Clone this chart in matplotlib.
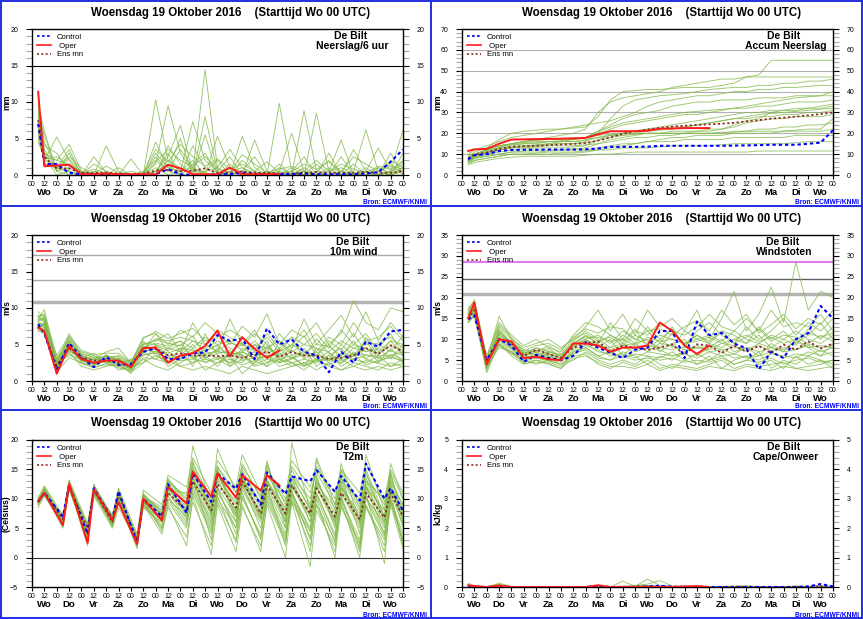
import matplotlib
matplotlib.use('Agg')
import matplotlib.pyplot as plt
from matplotlib.lines import Line2D
from matplotlib.ticker import MultipleLocator, FixedLocator
import matplotlib.transforms as mtrans

plt.rcParams['font.family'] = ['Liberation Sans', 'DejaVu Sans']

TITLE = 'Woensdag 19 Oktober 2016    (Starttijd Wo 00 UTC)'
DAYS = ['Wo', 'Do', 'Vr', 'Za', 'Zo', 'Ma', 'Di', 'Wo', 'Do', 'Vr', 'Za', 'Zo', 'Ma', 'Di', 'Wo']
HOUR_LABELS = ['00', '12'] * 15 + ['00']
HOURS12 = [6] + list(range(12, 361, 12))                      # 31 steps
HOURS_T2M = [h for d in range(15) for h in (24 * d + 6, 24 * d + 12)] + [360]
T2M_OPER_HOURS = HOURS_T2M[:20] + [240]

# ---------------- Neerslag / 6 uur ----------------
PREC_OPER = [11.4, 1.2, 1.3, 1.4, 0.1, 0.1, 0.2, 0.1, 0.1, 0.1, 0.1, 1.4, 0.9, 0.1, 0.1, 0.1, 1.0, 0.1, 0.1, 0.1, 0.1]
PREC_CONTROL = [7.0, 1.5, 1.5, 0.3, 0.1, 0.1, 0.1, 0.1, 0.0, 0.0, 0.1, 0.8, 0.1, 0.0, 0.0, 0.1, 0.1, 0.3, 0.1, 0.1,
                0.1, 0.1, 0.2, 0.1, 0.1, 0.1, 0.1, 0.2, 0.4, 1.8, 3.5]
PREC_MEAN = [7.5, 2.5, 0.9, 0.9, 0.3, 0.3, 0.3, 0.2, 0.1, 0.2, 0.6, 0.7, 0.5, 0.6, 0.9, 0.3, 0.3, 0.5, 0.3, 0.3,
             0.2, 0.2, 0.3, 0.4, 0.3, 0.3, 0.3, 0.4, 0.3, 0.3, 0.6]
PREC_MEMBERS = [
    [9.0, 3.0, 0.5, 3.0, 0.2, 0.5, 0.0, 0.2, 0.0, 0.0, 10.3, 2.0, 0.5, 1.0, 0.3, 0.0, 0.5, 1.0, 0.2, 0.0, 0.0, 0.3, 0.5, 0.0, 0.5, 1.0, 0.2, 0.5, 0.0, 0.5, 1.0],
    [6.0, 2.5, 2.0, 4.2, 0.5, 0.0, 4.0, 0.5, 0.0, 0.0, 1.5, 9.5, 3.0, 0.5, 14.4, 1.0, 0.0, 0.5, 0.0, 0.2, 0.0, 0.0, 0.0, 0.5, 0.0, 0.0, 0.0, 0.0, 1.0, 0.3, 0.5],
    [10.0, 4.5, 1.0, 0.5, 0.0, 1.5, 0.5, 0.0, 2.2, 0.0, 0.5, 2.5, 6.8, 0.5, 0.0, 5.3, 1.0, 0.0, 0.5, 0.0, 9.8, 0.5, 0.0, 1.5, 0.0, 0.5, 0.0, 1.0, 0.0, 0.5, 6.2],
    [5.0, 2.0, 5.2, 2.0, 0.0, 0.0, 0.0, 1.0, 0.0, 0.0, 4.5, 1.0, 0.5, 7.3, 2.0, 0.5, 0.0, 5.3, 1.0, 0.0, 0.5, 5.7, 0.5, 0.0, 0.5, 4.8, 0.0, 0.5, 0.0, 0.0, 0.5],
    [8.0, 5.5, 0.5, 1.0, 0.0, 2.5, 0.3, 0.0, 0.0, 0.0, 0.0, 4.0, 1.5, 0.0, 8.0, 0.5, 2.5, 0.0, 4.8, 0.5, 0.0, 0.0, 8.8, 0.5, 2.0, 0.0, 0.5, 6.2, 0.5, 1.5, 0.0],
    [7.0, 3.0, 2.0, 1.5, 0.5, 0.0, 0.0, 0.0, 0.0, 0.5, 2.0, 0.5, 3.5, 1.0, 0.0, 0.0, 1.5, 0.0, 0.0, 0.0, 0.5, 0.0, 0.0, 8.5, 0.5, 0.0, 3.5, 0.5, 3.7, 0.5, 2.0],
    [9.5, 6.0, 0.5, 0.0, 0.0, 0.0, 0.5, 0.0, 0.0, 0.0, 0.5, 3.0, 0.0, 1.5, 3.0, 0.0, 0.0, 2.0, 0.5, 0.0, 0.0, 0.5, 2.5, 0.0, 0.0, 0.5, 0.0, 0.0, 0.5, 0.0, 1.0],
    [6.5, 1.5, 1.0, 2.5, 1.0, 0.0, 0.0, 0.0, 0.0, 0.0, 3.0, 1.0, 5.0, 0.0, 0.5, 2.0, 0.0, 0.5, 2.5, 0.0, 1.0, 0.0, 0.0, 0.0, 3.0, 0.0, 0.0, 0.5, 0.0, 3.0, 0.0],
    [4.5, 2.5, 0.0, 0.5, 0.0, 0.0, 0.0, 0.0, 0.0, 0.0, 1.0, 0.0, 0.5, 2.0, 0.0, 0.0, 0.5, 0.0, 0.0, 0.5, 0.0, 0.0, 0.5, 0.0, 0.0, 2.5, 0.0, 0.0, 1.0, 0.0, 0.5],
    [8.5, 4.0, 3.0, 0.5, 0.0, 0.0, 0.0, 0.0, 0.0, 0.0, 0.0, 2.0, 1.0, 0.5, 0.5, 1.0, 3.5, 1.0, 0.0, 0.0, 0.0, 0.0, 1.0, 0.0, 0.0, 0.0, 1.5, 0.0, 0.0, 0.5, 1.5],
    [7.5, 1.5, 1.0, 3.5, 0.0, 0.0, 0.0, 0.0, 0.0, 0.0, 2.5, 0.5, 0.0, 4.0, 1.0, 0.0, 0.0, 0.5, 0.0, 0.0, 1.5, 0.0, 0.0, 0.0, 1.0, 0.0, 0.0, 0.0, 0.0, 2.0, 1.0],
    [5.5, 2.0, 1.5, 0.0, 0.0, 0.0, 0.0, 0.0, 0.0, 0.0, 0.5, 1.5, 0.0, 0.0, 5.5, 0.0, 1.0, 0.0, 0.0, 0.0, 0.0, 1.0, 0.0, 0.0, 0.0, 0.0, 0.0, 0.0, 0.0, 0.0, 3.0],
    [6.8, 2.2, 2.5, 1.2, 0.3, 0.8, 0.2, 0.0, 0.5, 0.0, 1.8, 3.5, 2.0, 1.2, 2.5, 0.8, 0.3, 2.8, 1.5, 0.3, 0.8, 1.2, 0.5, 2.0, 0.5, 1.5, 0.8, 0.3, 1.2, 0.8, 1.8],
    [7.8, 3.5, 0.8, 2.2, 0.4, 0.2, 1.2, 0.3, 0.0, 0.3, 3.5, 1.8, 4.2, 2.5, 1.2, 2.2, 0.8, 1.5, 0.5, 1.8, 0.3, 0.5, 1.5, 0.8, 1.8, 0.5, 2.5, 1.5, 0.5, 1.2, 0.8],
]

# ---------------- Accum Neerslag ----------------
ACC_OPER = [11.5, 12.3, 12.5, 15.0, 17.0, 17.1, 17.2, 17.3, 17.4, 17.5, 17.8, 19.5, 21.0, 21.0, 21.0, 21.2, 22.2, 22.3, 22.5, 22.5, 22.5]
ACC_CONTROL = [7.5, 9.5, 10.0, 11.5, 12.0, 12.1, 12.1, 12.2, 12.2, 12.2, 12.3, 12.7, 13.5, 13.5, 13.5, 13.6, 14.0, 14.0, 14.0, 14.0,
               14.0, 14.0, 14.1, 14.2, 14.3, 14.5, 14.5, 14.5, 15.0, 15.5, 21.5]
ACC_MEAN = [8.0, 9.8, 10.8, 12.5, 13.5, 13.8, 14.0, 14.3, 14.6, 14.9, 15.3, 16.5, 18.0, 19.8, 21.0, 21.8, 22.6, 23.2, 23.6, 24.0,
            24.3, 24.6, 25.0, 25.7, 26.3, 27.0, 27.5, 28.0, 28.6, 29.2, 30.0]
ACC_MEMBERS = [
    [9, 11, 13, 17, 20, 21, 21.5, 22, 22, 22.5, 23, 28, 36, 40, 40.5, 41, 41, 41.5, 42, 42, 42, 43, 44, 47, 48, 55, 55, 55, 55, 55, 55],
    [8, 10, 12, 14, 15, 16, 17, 18, 19, 20, 22, 30, 35, 37, 38, 39, 40, 42, 43, 44, 45, 46, 46, 47, 47, 47, 47, 47, 47, 47, 47],
    [7, 9, 11, 12, 13, 14, 14.5, 15, 15, 15, 16, 20, 27, 33, 36, 37, 38, 38.5, 39, 40, 41, 41.5, 42, 42, 43, 43, 44, 44, 45, 45, 46],
    [10, 12, 14, 16, 18, 19, 20, 21, 22, 23, 24, 25, 26, 28, 30, 33, 35, 36, 37, 38, 38, 39, 40, 40, 41, 41, 42, 42, 42.5, 43, 43],
    [6, 8, 10, 12, 13, 13.5, 14, 15, 16, 17, 18, 21, 24, 27, 29, 30, 31, 33, 34, 35, 35, 36, 36, 36, 37, 37, 37, 38, 38, 38, 38],
    [8, 9, 11, 13, 15, 16, 16.5, 17, 17, 17.5, 18, 20, 22, 24, 25, 26, 27, 28, 29, 29, 30, 31, 32, 32, 33, 33, 34, 35, 35, 35, 36],
    [7, 9, 10, 11, 12, 12.5, 13, 13, 13, 13.5, 14, 17, 19, 20, 21, 22, 23, 24, 25, 26, 27, 28, 29, 30, 30, 31, 31, 32, 32, 33, 34],
    [9, 10, 12, 14, 15, 15.5, 16, 16, 16, 16, 16.5, 18, 19, 20, 21, 22, 22, 23, 23, 24, 25, 26, 27, 27, 28, 28, 29, 29, 30, 30, 31],
    [6, 8, 9, 10, 11, 11.5, 12, 12, 12, 12.5, 13, 15, 17, 18, 19, 20, 20, 21, 21, 21, 22, 22, 23, 25, 26, 27, 27, 28, 28, 28, 29],
    [8, 9, 10, 12, 13, 13, 13.5, 14, 14, 14, 14.5, 15, 16, 17, 18, 18, 19, 19, 20, 20, 20, 20, 21, 21, 22, 22, 23, 23, 24, 24, 25],
    [5, 7, 8, 9, 10, 10, 10.5, 11, 11, 11, 11.5, 12, 13, 14, 15, 16, 17, 18, 18, 19, 19, 19, 20, 20, 20, 20, 21, 21, 21, 21, 22],
    [7, 8, 9, 10, 11, 11, 11, 11.5, 12, 12, 12, 13, 14, 15, 15, 16, 16, 16, 17, 17, 17, 17, 18, 18, 18, 18, 18, 19, 19, 19, 19],
    [6, 7, 8, 9, 10, 10, 10, 10, 10.5, 10.5, 11, 12, 12, 13, 13, 13, 13.5, 14, 14, 14, 14, 14.5, 15, 15, 15, 15, 15, 15.5, 16, 16, 16],
    [5, 6, 7, 8, 8.5, 9, 9, 9, 9, 9, 9.5, 10, 10, 10.5, 11, 11, 11, 11, 11, 11, 11, 11, 11, 11, 11.5, 11.5, 11.5, 11.5, 11.5, 11.5, 11.5],
    [8, 10, 12, 14, 15, 16, 17, 17, 17.5, 18, 18, 19, 19.5, 20, 20, 20, 20, 20, 20, 20, 20, 20.5, 20.5, 21, 21, 21, 21, 21.5, 22, 22, 27],
    [7, 9, 11, 13, 14, 15, 15, 16, 16, 16, 17, 18, 19, 19, 19.5, 20, 20, 20, 20, 21, 21, 22, 24, 26, 27, 30, 31, 31, 32, 32, 33],
    [7.5, 9.5, 11.5, 13.5, 14.5, 15, 15.5, 16, 16.5, 17, 18, 21, 23, 25, 26, 27, 28, 29, 30, 30.5, 31, 31.5, 32, 33, 34, 35, 36, 37, 37.5, 38, 40],
    [6.5, 8.5, 10.5, 12.5, 13.5, 14, 14, 14.5, 15, 15, 15.5, 16.5, 18, 19, 20, 21, 21.5, 22, 23, 24, 25, 26, 27, 28, 29, 29.5, 30, 30.5, 31, 31.5, 32],
]

# ---------------- 10m wind ----------------
WIND_OPER = [7.3, 6.8, 1.0, 4.8, 3.0, 2.5, 2.8, 2.8, 1.9, 4.5, 4.6, 2.5, 3.5, 3.8, 4.8, 6.9, 3.4, 6.0, 4.4, 3.2, 4.2]
WIND_CONTROL = [7.8, 6.5, 1.5, 5.2, 3.2, 1.9, 3.3, 2.2, 2.3, 4.0, 4.5, 3.0, 3.0, 3.8, 3.9, 6.3, 5.5, 5.8, 3.0, 7.2,
                5.0, 5.7, 4.0, 3.5, 1.2, 4.0, 2.5, 5.4, 4.7, 6.8, 7.0]
WIND_MEAN = [7.5, 6.5, 2.1, 4.5, 3.2, 2.8, 2.8, 2.5, 2.0, 4.5, 4.5, 3.5, 3.8, 3.5, 3.5, 3.4, 3.5, 3.2, 3.5, 4.0,
             3.3, 4.0, 3.5, 3.5, 3.0, 3.2, 3.5, 4.5, 3.7, 4.9, 4.0]
WIND_MEMBERS = [
    [8.5, 9.8, 2.5, 6.5, 3.5, 3.0, 4.0, 4.5, 2.5, 6.0, 6.5, 5.0, 7.0, 6.0, 8.0, 6.5, 5.0, 7.5, 6.0, 9.2, 5.0, 7.0, 6.0, 8.0, 5.0, 6.5, 11.0, 8.0, 7.0, 10.0, 9.5],
    [7.0, 8.0, 1.5, 5.5, 2.5, 2.0, 3.5, 3.0, 1.5, 5.0, 5.5, 6.5, 4.0, 8.0, 5.0, 4.0, 8.5, 5.0, 7.0, 4.0, 6.5, 4.5, 8.5, 5.0, 7.0, 9.0, 6.0, 9.5, 5.5, 8.0, 6.0],
    [9.5, 8.5, 3.0, 5.0, 4.0, 3.5, 2.5, 2.0, 3.0, 3.5, 4.0, 2.0, 3.0, 4.5, 2.5, 3.0, 2.0, 4.0, 3.0, 5.5, 2.5, 3.0, 4.5, 2.0, 3.5, 2.5, 4.0, 3.0, 2.5, 4.5, 2.5],
    [8.0, 7.5, 2.0, 4.0, 2.0, 1.5, 2.0, 2.5, 1.0, 4.0, 3.0, 4.5, 5.5, 3.0, 4.0, 5.0, 3.0, 2.5, 5.0, 3.0, 4.0, 6.0, 3.0, 4.0, 2.5, 3.5, 5.5, 3.0, 4.5, 3.0, 5.0],
    [7.5, 7.0, 2.5, 3.5, 3.0, 2.5, 3.0, 1.5, 2.0, 2.5, 5.0, 3.5, 2.0, 2.5, 3.5, 2.0, 4.0, 3.5, 2.0, 2.5, 3.0, 2.0, 2.5, 3.0, 4.0, 2.0, 3.0, 2.5, 3.5, 2.0, 3.0],
    [9.0, 8.0, 2.2, 6.0, 3.8, 3.2, 2.8, 3.5, 2.5, 5.5, 3.5, 2.5, 4.5, 2.0, 6.5, 3.5, 2.5, 4.5, 3.5, 2.0, 5.5, 3.5, 2.0, 4.5, 3.0, 5.0, 3.5, 5.5, 3.0, 3.5, 4.0],
    [7.8, 7.2, 1.8, 4.2, 2.8, 2.2, 3.0, 2.0, 1.5, 3.0, 2.0, 1.5, 2.5, 3.5, 1.5, 2.5, 3.5, 1.0, 2.5, 3.5, 2.0, 2.5, 1.5, 3.0, 2.0, 1.5, 2.5, 2.0, 1.5, 2.5, 2.0],
    [8.2, 8.8, 2.8, 5.8, 3.5, 2.8, 3.5, 2.8, 2.2, 4.8, 4.2, 3.0, 3.5, 5.0, 3.0, 4.5, 2.0, 3.0, 4.0, 2.5, 3.5, 2.5, 3.0, 2.5, 3.5, 4.5, 2.5, 6.0, 3.5, 5.5, 3.5],
    [6.8, 6.5, 1.2, 3.2, 2.5, 2.0, 2.2, 2.2, 1.2, 2.5, 3.5, 2.8, 2.0, 1.5, 2.0, 1.5, 1.0, 2.0, 1.5, 1.0, 1.5, 2.0, 2.5, 1.5, 2.5, 1.5, 2.0, 1.5, 2.0, 1.5, 2.0],
    [8.8, 9.0, 2.0, 5.2, 3.2, 3.8, 2.5, 3.2, 1.8, 4.2, 6.5, 4.0, 3.0, 4.0, 4.5, 5.5, 4.5, 3.5, 2.5, 4.5, 3.5, 5.0, 4.0, 3.5, 5.0, 3.0, 4.5, 4.0, 4.5, 6.5, 3.5],
    [7.2, 7.8, 2.6, 4.6, 3.0, 2.6, 3.6, 2.6, 2.8, 3.8, 4.8, 4.2, 5.0, 3.2, 3.8, 4.0, 3.8, 5.2, 2.8, 3.6, 2.6, 4.2, 3.2, 5.8, 3.8, 2.8, 3.4, 4.6, 2.6, 3.4, 2.6],
    [8.4, 8.2, 3.2, 5.6, 3.6, 2.4, 2.6, 2.4, 2.0, 4.4, 5.8, 5.5, 6.0, 5.5, 5.0, 7.0, 6.0, 5.0, 4.5, 6.0, 4.0, 5.0, 7.0, 4.0, 6.0, 5.0, 8.0, 5.5, 6.0, 7.5, 5.5],
    [7.6, 7.4, 2.3, 4.4, 2.7, 2.3, 2.7, 2.7, 1.7, 4.1, 4.4, 3.8, 4.5, 4.2, 3.2, 3.8, 4.2, 2.8, 3.2, 4.8, 3.0, 3.5, 4.0, 3.0, 2.8, 3.8, 3.0, 3.5, 3.2, 4.2, 3.5],
    [8.1, 7.6, 2.1, 4.9, 3.3, 2.9, 3.1, 2.9, 2.1, 4.6, 5.2, 4.8, 5.5, 4.5, 6.0, 5.0, 5.5, 4.2, 5.0, 4.5, 5.5, 4.0, 5.0, 4.5, 4.0, 5.5, 4.5, 5.0, 5.2, 6.0, 4.5],
    [7.4, 7.0, 1.6, 4.3, 2.9, 2.4, 3.2, 2.3, 1.6, 3.6, 3.8, 3.2, 2.8, 3.0, 2.6, 3.3, 2.4, 3.6, 2.2, 3.0, 2.5, 3.2, 2.2, 2.8, 3.0, 2.4, 3.6, 2.2, 2.8, 3.2, 2.8],
    [8.6, 8.4, 2.4, 5.4, 3.4, 3.0, 3.4, 3.0, 2.4, 5.2, 5.0, 4.5, 4.0, 5.5, 4.2, 4.8, 3.5, 4.0, 5.5, 3.8, 4.5, 3.0, 3.8, 5.0, 4.8, 3.5, 5.0, 4.5, 3.8, 4.8, 4.2],
    [7.0, 6.8, 1.9, 3.8, 2.4, 1.8, 2.4, 1.8, 1.4, 3.2, 3.0, 2.5, 3.5, 2.5, 3.0, 2.5, 3.0, 2.2, 2.8, 2.0, 3.0, 2.5, 2.0, 2.8, 2.2, 3.0, 2.0, 2.8, 2.4, 2.0, 2.4],
    [8.9, 9.2, 3.5, 6.2, 4.2, 3.6, 3.8, 3.8, 2.6, 5.8, 6.8, 5.8, 6.5, 7.2, 5.5, 6.0, 7.0, 6.0, 4.0, 6.5, 4.5, 6.0, 5.0, 6.5, 4.5, 7.0, 5.0, 6.5, 4.0, 5.5, 5.0],
    [7.7, 7.9, 2.2, 4.7, 3.1, 2.7, 2.9, 3.1, 1.9, 4.3, 4.0, 3.6, 3.2, 3.8, 4.2, 3.0, 3.6, 4.0, 3.2, 3.4, 3.8, 3.2, 3.6, 3.4, 3.0, 3.2, 3.8, 3.6, 3.4, 3.6, 3.0],
    [8.3, 8.6, 2.7, 5.1, 3.7, 3.3, 3.3, 3.4, 2.3, 5.0, 5.6, 5.2, 4.8, 6.2, 3.5, 4.2, 5.2, 4.8, 6.5, 5.0, 3.2, 4.5, 6.2, 3.5, 5.5, 4.2, 6.5, 4.0, 5.0, 4.0, 6.2],
]

# ---------------- Windstoten ----------------
GUST_OPER = [15.0, 18.8, 4.0, 10.0, 9.5, 5.5, 5.8, 5.2, 5.0, 9.0, 9.0, 8.5, 7.0, 8.0, 8.0, 8.5, 14.0, 12.0, 8.5, 6.5, 8.5]
GUST_CONTROL = [14.8, 15.7, 5.0, 10.0, 8.5, 4.6, 6.3, 5.5, 5.0, 6.0, 9.3, 8.0, 6.8, 5.5, 7.5, 8.0, 12.0, 12.0, 5.5, 14.2,
                11.0, 11.5, 9.0, 7.8, 2.8, 7.0, 5.5, 10.0, 11.5, 18.0, 15.0]
GUST_MEAN = [15.0, 17.0, 4.5, 10.0, 9.0, 6.0, 7.5, 6.5, 5.5, 8.0, 9.0, 9.5, 7.0, 8.5, 8.0, 7.5, 8.0, 8.8, 6.3, 8.8,
             8.5, 6.7, 8.5, 7.0, 8.4, 6.7, 8.7, 7.5, 9.5, 7.8, 9.0]
GUST_MEMBERS = [
    [17, 19.5, 5, 15.5, 10, 8, 9, 10, 8, 10, 13, 17, 12, 16, 11, 17, 13, 15, 12, 17, 10, 15, 21.5, 12, 16, 22.5, 14, 28.5, 17, 21.5, 20],
    [16, 18, 3, 12, 8, 6, 7, 6, 5, 9, 11, 9, 14, 10, 15, 12, 9, 13, 8, 12, 14, 11, 9, 13, 10, 12, 15, 11, 14, 12, 15],
    [14, 16, 2, 9, 6, 4, 5, 4, 3, 7, 8, 6, 5, 7, 6, 4, 6, 5, 7, 4, 5, 6, 4, 5, 7, 3, 5, 4, 6, 5, 4],
    [15, 17, 4.5, 11, 9, 7, 6, 7, 6, 8, 10, 8, 10, 6, 9, 10, 7, 9, 10, 6, 8, 10, 7, 8, 6, 9, 7, 10, 8, 6, 9],
    [14.5, 17.5, 3.5, 8, 7, 5, 4, 5, 4, 5, 7, 5, 4, 5, 4, 6, 4, 3, 5, 4, 6, 3, 5, 6, 4, 5, 3, 6, 4, 5, 3],
    [16.5, 18.5, 5, 13, 10, 6.5, 8, 7, 6, 9.5, 12, 10, 8, 11, 9, 13, 10, 8, 12, 10, 9, 12, 11, 9, 13, 10, 12, 9, 11, 14, 10],
    [15.5, 16.5, 4, 10.5, 8, 5.5, 6.5, 5, 4.5, 7.5, 9, 7, 6.5, 8, 7, 8, 7.5, 6, 7, 8.5, 7, 7.5, 6.5, 8, 7, 8, 7, 7.5, 8.5, 7, 8],
    [15, 18, 3.5, 11.5, 9.5, 6, 5.5, 6.5, 5.5, 8.5, 10, 11, 9, 12, 10, 9, 11, 10, 9, 11, 9, 8, 10, 9, 11, 8, 10, 12, 10, 9, 11],
    [14, 15.5, 2.5, 9.5, 7.5, 4.5, 5, 4.5, 3.5, 6, 6.5, 4, 3, 4.5, 3.5, 5, 3, 4, 3.5, 3, 4, 5, 3, 4, 3.5, 4, 4.5, 3, 3.5, 4, 5],
    [17.5, 19, 6, 14, 11, 8.5, 10, 8, 7, 11, 14, 13, 11, 9, 12, 11, 14, 12, 11, 13, 16, 13, 12, 15, 12, 17, 13, 14, 13, 16, 12],
    [16, 17, 4, 12.5, 9, 7.5, 7, 8.5, 6.5, 10, 11.5, 9.5, 10.5, 8.5, 11, 9.5, 8, 11.5, 9, 10, 11, 9.5, 12, 10, 9, 11, 10, 8.5, 12.5, 10, 13],
    [15, 17, 5, 8.5, 6.5, 5, 6, 5.5, 5, 6.5, 8, 6, 7, 5.5, 6.5, 6, 5.5, 7, 5, 6.5, 5, 7, 5.5, 6, 5, 6.5, 6, 5.5, 7, 6, 7],
    [15.5, 17.5, 4.2, 10.5, 8.5, 6.2, 6.8, 6.2, 5.2, 8.2, 9.5, 8.5, 8.0, 9.0, 7.5, 8.5, 8.0, 7.5, 8.2, 7.8, 8.5, 7.5, 8.0, 7.8, 8.5, 7.2, 8.0, 7.5, 8.8, 8.0, 8.5],
    [16.2, 18.2, 4.8, 12.0, 9.2, 6.8, 7.8, 7.2, 6.2, 9.0, 10.5, 10.5, 9.5, 10.0, 8.5, 10.5, 9.5, 10.0, 9.0, 9.5, 10.5, 9.0, 10.0, 11.0, 9.5, 10.5, 9.0, 10.0, 11.5, 10.5, 11.5],
    [14.8, 16.8, 3.8, 9.8, 7.8, 5.2, 6.0, 5.8, 4.8, 7.0, 8.5, 7.5, 6.0, 6.5, 5.5, 7.0, 6.5, 6.0, 6.5, 5.5, 7.0, 6.0, 6.5, 5.5, 6.0, 7.0, 5.5, 6.5, 6.0, 7.5, 6.0],
    [16.8, 19.2, 5.5, 13.5, 10.5, 7.2, 8.5, 9.0, 7.5, 10.5, 12.5, 11.5, 13.0, 12.5, 10.0, 12.0, 12.5, 11.0, 13.0, 14.5, 12.0, 17.0, 13.5, 16.0, 11.5, 13.5, 16.0, 12.5, 15.0, 13.5, 17.0],
    [15.2, 16.2, 3.2, 9.0, 7.0, 4.8, 5.5, 4.8, 4.0, 6.5, 7.5, 5.5, 5.0, 6.0, 5.0, 5.5, 5.0, 5.5, 4.5, 5.0, 4.5, 5.5, 4.0, 5.0, 4.5, 5.5, 4.0, 5.0, 5.5, 4.5, 5.0],
    [16.0, 18.0, 4.6, 11.8, 8.8, 6.6, 7.2, 7.8, 5.8, 8.8, 10.8, 9.0, 11.0, 9.5, 12.5, 8.0, 10.0, 12.5, 8.5, 11.0, 9.5, 12.0, 9.0, 10.5, 12.5, 9.5, 11.0, 10.5, 9.0, 11.0, 9.5],
    [15.8, 17.8, 4.4, 11.2, 8.2, 6.4, 7.4, 6.6, 5.6, 8.6, 9.8, 8.8, 7.5, 8.5, 9.0, 7.0, 9.0, 8.5, 7.5, 8.0, 7.5, 9.0, 8.5, 7.0, 9.0, 8.0, 7.5, 9.5, 8.0, 8.5, 8.0],
    [14.2, 16.0, 3.0, 8.8, 6.8, 4.2, 4.5, 4.2, 3.0, 5.5, 6.0, 4.5, 3.5, 3.5, 3.0, 4.0, 2.5, 3.5, 3.0, 2.5, 3.5, 3.0, 2.5, 3.5, 3.0, 2.5, 3.5, 3.0, 2.5, 3.0, 3.5],
]

# ---------------- T2m (values at 06 and 12 UTC of each day) ----------------
T2M_OPER = [9.6, 11.0, 5.5, 12.5, 2.5, 11.6, 6.4, 9.4, 2.3, 10.0, 6.3, 12.0, 9.2, 14.6, 10.4, 14.3, 10.2, 14.0, 11.4, 14.0, 12.3]
T2M_CONTROL = [9.5, 11.0, 7.0, 12.3, 4.0, 11.8, 6.5, 11.3, 2.5, 10.0, 7.0, 12.5, 7.6, 14.3, 9.5, 14.3, 11.7, 14.2, 9.0, 14.5,
               10.8, 13.8, 13.0, 14.9, 11.2, 13.9, 9.7, 16.0, 10.0, 11.8, 8.0]
T2M_MEAN = [9.5, 11.0, 6.5, 12.0, 5.0, 11.5, 6.0, 10.8, 3.0, 9.8, 6.5, 11.0, 8.0, 13.0, 8.0, 12.5, 8.5, 13.0, 7.5, 12.3,
            7.5, 12.3, 7.5, 11.8, 7.0, 11.0, 6.5, 11.0, 6.8, 11.0, 7.0]
T2M_MEMBERS = [
    [9, 11.5, 6, 13, 3, 12, 6.5, 11.5, 2, 10.5, 8, 13, 10, 19, 9, 18.5, 11, 16, 10, 16.5, 5, 19.5, 8, 17, 9, 16, 6, 17.5, 8, 16, 10],
    [10, 11, 5, 12, 2, 12.5, 5.5, 10, 1.5, 9.5, 5, 10.5, 6, 14, 3, 12, 4, 11, 3, 12, 2, 11, 1, 10, 0, 9, 1, 11, -1, 11, 2],
    [9.5, 12, 6.5, 13, 4.5, 11, 6, 9.5, 3, 11, 7, 12.5, 9, 16.5, 7, 15, 8, 14, 7, 14.5, 8, 13.5, 6, 14, 5, 14, 4, 13.5, 7, 14.5, 6],
    [8.5, 10.5, 5.5, 11.5, 3.5, 10.5, 5, 8.5, 2.5, 9, 4, 9, 2, 10.5, 0.5, 9, 1, 8.5, 2, 9, 0, 9.5, -1.5, 8, 2, 9.5, 0, 8.5, 3, 10, 3],
    [10, 11.8, 6.8, 12.8, 5.5, 11.5, 7, 11, 3.5, 10.5, 8.5, 11.5, 11, 15, 9.5, 15.5, 10, 15, 9, 15, 10, 15.5, 11, 14.5, 9, 13, 10, 14, 9, 13, 9],
    [9.2, 10.8, 5.8, 11.8, 4, 11, 5.8, 9.8, 2, 8.5, 6, 10, 7, 12, 5, 11, 6, 12.5, 5, 11, 4, 11.5, 3, 11, 4, 10, 3, 12, 4, 10, 4],
    [9.8, 11.2, 7, 12.2, 5, 12, 6.5, 10.5, 3.5, 10, 7.5, 12, 8, 13.5, 8, 13, 7.5, 13.5, 8.5, 13.5, 6, 12.5, 7.5, 13, 6.5, 12, 7, 12.5, 5.5, 11.5, 7.5],
    [9, 11, 6.2, 12.5, 4.2, 11.2, 5.5, 10.2, 2.2, 9.2, 5.5, 9.5, 5, 11, 4, 10, 5, 10, 4, 10.5, 3.5, 9.5, 4.5, 9, 3, 8.5, 2.5, 9, 2, 9.5, 2.5],
    [10.2, 12.2, 7.2, 13.2, 5.8, 12.2, 7.2, 11.8, 4, 11.5, 9, 14, 12, 17, 11, 16.5, 12, 17.5, 11, 15.5, 9, 14, 10, 15, 11, 14.5, 8.5, 13, 10, 15, 11],
    [9.4, 10.6, 6, 11.6, 4.5, 10.8, 6.2, 9.2, 2.8, 8.8, 6.5, 11, 7.5, 12.5, 6, 12, 7, 11.5, 6, 12, 6, 11, 5, 12, 5.5, 11, 5, 10, 6, 12.5, 5],
    [9.6, 11.4, 6.4, 12.4, 3.8, 11.4, 6.8, 10.8, 3.2, 10.2, 7, 12.5, 8.5, 14.5, 7.5, 14, 9, 13, 7.5, 13, 7, 13.5, 8.5, 13, 7.5, 13.5, 8, 15, 7, 12, 8],
    [9.3, 11.3, 5.3, 12.3, 3.3, 11.8, 5.2, 9.6, 1.8, 9.8, 4.5, 8.5, 3.5, 9.5, 2, 9.5, 3, 9, 1, 9.5, 2.5, 10, 2, 9, 1, 10, 1.5, 9, 1, 9, 1.5],
    [9.7, 11.6, 6.6, 12.6, 4.8, 12, 6, 10, 2.6, 10.6, 8, 13.5, 9.5, 15.5, 8.5, 15, 6, 13, 9.5, 16, 7, 15, 9, 16.5, 8, 15, 9, 14.5, 6, 13.5, 8.5],
    [9.1, 10.9, 5.7, 12.1, 3.6, 11.6, 6.3, 10.4, 2.4, 9.4, 6.8, 11.8, 8.2, 13, 6.5, 14.5, 8, 12, 6.5, 11.5, 5, 12.5, 6, 11, 3.5, 12.5, 6, 10.5, 4, 11, 5.5],
    [9.9, 11.1, 6.9, 12.9, 4.6, 11.9, 5.9, 10.6, 3.6, 10.3, 7.2, 12.2, 7, 14, 9, 13.5, 9.5, 14.5, 9, 13, 8.5, 12, 7, 12.5, 8.5, 13, 6, 12, 8, 14, 7.5],
    [9.3, 11.2, 6.1, 11.9, 4.1, 11.3, 6.6, 10, 2.9, 9.6, 6.2, 11.2, 6.5, 12.8, 5.5, 11.5, 5, 13.5, 6.5, 13, 7.5, 11, 4.5, 13.5, 6, 11.5, 5.5, 11.5, 5, 12, 6.5],
    [9.5, 11.3, 6.5, 12.7, 5.2, 11.7, 7.1, 11.2, 3.3, 10.7, 7.6, 12.8, 10.5, 16, 10, 15.5, 11, 15.5, 10.5, 14, 11, 16.5, 12, 15.5, 10, 15, 11, 16, 9.5, 14.5, 10],
    [9.0, 10.7, 5.6, 11.7, 3.7, 10.9, 5.4, 9.4, 2.1, 9, 5, 10, 5.5, 11.5, 4.5, 10.5, 2.5, 10.5, 3.5, 10, 3, 10.5, 3.5, 10.5, 2.5, 10.5, 2, 10, 3.5, 9.5, 3],
    [9.8, 11.7, 6.7, 12.7, 4.4, 12.4, 6.9, 10.9, 3.1, 10.4, 7.3, 13.2, 9, 15, 8, 14.5, 7, 12.5, 8, 14, 9.5, 14, 8, 12, 6.5, 12, 7.5, 13, 7, 13, 6],
    [9.4, 11.0, 6.3, 12.0, 4.3, 11.1, 6.1, 10.1, 2.7, 9.9, 6.6, 11.6, 7.8, 13.6, 7.2, 13.2, 7.5, 12.8, 6.8, 12.6, 6.5, 12.8, 7, 12.2, 6, 11.8, 6.5, 12, 6.5, 11.5, 7],
]

# ---------------- Cape / Onweer ----------------
CAPE_OPER = [0.06, 0.03, 0.0, 0.05, 0.0, 0.0, 0.0, 0.0, 0.0, 0.0, 0.0, 0.06, 0.0, 0.0, 0.0, 0.0, 0.0, 0.0, 0.02, 0.03, 0.0]
CAPE_CONTROL = [0.03, 0.01, 0.0, 0.01, 0.0, 0.0, 0.0, 0.0, 0.0, 0.0, 0.0, 0.02, 0.0, 0.0, 0.0, 0.02, 0.04, 0.01, 0.0, 0.01,
                0.0, 0.0, 0.0, 0.0, 0.0, 0.0, 0.0, 0.0, 0.02, 0.1, 0.02]
CAPE_MEAN = [0.02, 0.01, 0.0, 0.02, 0.0, 0.0, 0.0, 0.0, 0.0, 0.0, 0.0, 0.01, 0.0, 0.01, 0.01, 0.02, 0.02, 0.01, 0.01, 0.01,
             0.0, 0.0, 0.01, 0.01, 0.0, 0.0, 0.0, 0.01, 0.01, 0.02, 0.01]
CAPE_MEMBERS = [
    [0.12, 0.05, 0.0, 0.13, 0.02, 0, 0, 0, 0, 0, 0, 0.02, 0, 0.2, 0.02, 0.27, 0.05, 0.02, 0, 0, 0.01, 0.02, 0.03, 0.02, 0, 0.01, 0, 0.02, 0, 0.03, 0],
    [0.05, 0.02, 0.0, 0.08, 0, 0, 0, 0, 0, 0, 0.02, 0.04, 0, 0, 0.05, 0.1, 0.22, 0.03, 0.02, 0.02, 0, 0, 0.02, 0.04, 0.02, 0, 0.01, 0.03, 0.02, 0.05, 0.02],
    [0.08, 0.03, 0, 0.1, 0, 0, 0.01, 0, 0, 0.02, 0.01, 0.03, 0.01, 0.03, 0.04, 0.05, 0.03, 0.01, 0.02, 0.01, 0, 0.02, 0.01, 0.01, 0.01, 0.02, 0.01, 0, 0.01, 0.02, 0.01],
]

W, H = 863, 619
fig = plt.figure(figsize=(W / 100, H / 100), dpi=100)

GREEN = '#82b94a'
BLUE = '#0000ff'
RED = '#ff1a1a'
BROWN = '#8b2a2a'
FRAME = '#1f2fe0'

COL_LEFT = [32, 462]
ROW_TOP = [29, 235, 440]
ROW_BOT = [175, 381, 587]
PANEL_TOP = [0, 206, 410]
PANEL_BOT = [206, 410, 619]
PANEL_L = [0, 431]
PANEL_R = [431, 863]


def px(x, y):
    return x / W, 1 - y / H


def panel(col, row, ylim, major, minor, ylabel, name, members, control, oper, mean,
          hours=HOURS12, oper_hours=None, hlines=(), name_x=0.862):
    left = COL_LEFT[col]
    top, bot = ROW_TOP[row], ROW_BOT[row]
    hgt = bot - top
    ax = fig.add_axes([left / W, 1 - bot / H, 371 / W, hgt / H])
    ax.set_xlim(0, 360)
    ax.set_ylim(*ylim)
    for (yv, c, lw) in hlines:
        ax.axhline(yv, color=c, lw=lw, zorder=1)
    for m in members:
        ax.plot(hours, m, color=GREEN, lw=0.65, alpha=0.8, zorder=2)
    if oper_hours is None:
        oper_hours = hours[:len(oper)]
    ax.plot(hours, mean, color=BROWN, lw=1.3, ls=(0, (1.2, 1.4)), zorder=4)
    ax.plot(hours, control, color=BLUE, lw=1.5, ls=(0, (1.6, 1.4)), zorder=5)
    ax.plot(oper_hours, oper, color=RED, lw=1.4, zorder=6)

    ax.xaxis.set_major_locator(FixedLocator(list(range(0, 361, 12))))
    ax.set_xticklabels(HOUR_LABELS)
    ax.tick_params(axis='x', labelsize=5, length=3, pad=1.5, width=0.8)
    ax.yaxis.set_major_locator(MultipleLocator(major))
    ax.yaxis.set_minor_locator(MultipleLocator(minor))
    ax.tick_params(axis='y', which='major', labelsize=5, length=4, width=0.8,
                   left=True, right=True, labelleft=True, labelright=True, pad=6)
    ax.tick_params(axis='y', which='minor', length=4, width=0.8, color='#a8a8a8',
                   left=True, right=True)
    for s in ax.spines.values():
        s.set_linewidth(1.0)
    tr = mtrans.blended_transform_factory(ax.transData, ax.transAxes)
    for d, day in enumerate(DAYS):
        ax.text(24 * d + 12, -17.8 / hgt, day, transform=tr, ha='center', va='center',
                fontsize=6.8, fontweight='bold')
    ax.text(name_x - 0.004, 0.955, 'De Bilt', transform=ax.transAxes, ha='center', va='center',
            fontsize=7.5, fontweight='bold')
    ax.text(name_x, 0.882, name, transform=ax.transAxes, ha='center', va='center',
            fontsize=7.5, fontweight='bold')
    handles = [Line2D([], [], color=BLUE, lw=1.2, ls=(0, (1.6, 1.4))),
               Line2D([], [], color=RED, lw=1.2),
               Line2D([], [], color=BROWN, lw=1.2, ls=(0, (1.2, 1.4)))]
    ax.legend(handles, ['Control', ' Oper', 'Ens mn'], loc='upper left', frameon=False,
              fontsize=5.6, handlelength=1.8, handletextpad=0.8, labelspacing=0.15,
              borderaxespad=0.2, borderpad=0.4)
    cx = (PANEL_L[col] + PANEL_R[col]) / 2 + 15
    fig.text(*px(cx, PANEL_TOP[row] + 13), TITLE, ha='center', va='center',
             fontsize=8.3, fontweight='bold')
    lx = 6.5 if col == 0 else 437.5
    fig.text(*px(lx, (top + bot) / 2), ylabel, rotation=90, ha='center', va='center',
             fontsize=6.2, fontweight='bold')
    fig.text(*px(PANEL_R[col] - 4, PANEL_BOT[row] - 3.5), 'Bron: ECMWF/KNMI', ha='right', va='center',
             fontsize=4.8, fontweight='bold', color=BLUE)
    return ax


panel(0, 0, (0, 20), 5, 1, 'mm', 'Neerslag/6 uur', PREC_MEMBERS, PREC_CONTROL, PREC_OPER, PREC_MEAN,
      hlines=[(15, 'black', 0.8)])
panel(1, 0, (0, 70), 10, 2, 'mm', 'Accum Neerslag', ACC_MEMBERS, ACC_CONTROL, ACC_OPER, ACC_MEAN,
      hlines=[(v, '#b0b0b0', 0.8) for v in (10, 20, 30, 40, 50, 60)], name_x=0.872)
panel(0, 1, (0, 20), 5, 1, 'm/s', '10m wind', WIND_MEMBERS, WIND_CONTROL, WIND_OPER, WIND_MEAN,
      hlines=[(10.8, '#b4b4b4', 2.5), (13.9, '#a8a8a8', 1.0), (17.2, '#a8a8a8', 1.0)], name_x=0.868)
panel(1, 1, (0, 35), 5, 1, 'm/s', 'Windstoten', GUST_MEMBERS, GUST_CONTROL, GUST_OPER, GUST_MEAN,
      hlines=[(20.8, '#b4b4b4', 2.5), (24.5, '#606060', 1.0), (28.5, '#e07ae8', 1.5)], name_x=0.868)
panel(0, 2, (-5, 20), 5, 1, '(Celsius)', 'T2m', T2M_MEMBERS, T2M_CONTROL, T2M_OPER, T2M_MEAN,
      hours=HOURS_T2M, oper_hours=T2M_OPER_HOURS, hlines=[(0, '#303030', 0.8)], name_x=0.868)
panel(1, 2, (0, 5), 1, 0.2, 'kJ/kg', 'Cape/Onweer', CAPE_MEMBERS, CAPE_CONTROL, CAPE_OPER, CAPE_MEAN,
      name_x=0.872)

for (x0, y0, x1, y1) in [(1, 1, 862, 1), (1, 618, 862, 618), (1, 1, 1, 618), (862, 1, 862, 618),
                         (431, 1, 431, 618), (1, 206, 862, 206), (1, 410, 862, 410)]:
    fig.add_artist(Line2D([x0 / W, x1 / W], [1 - y0 / H, 1 - y1 / H], transform=fig.transFigure,
                          color=FRAME, lw=1.4))

fig.savefig('out.png', dpi=100)
